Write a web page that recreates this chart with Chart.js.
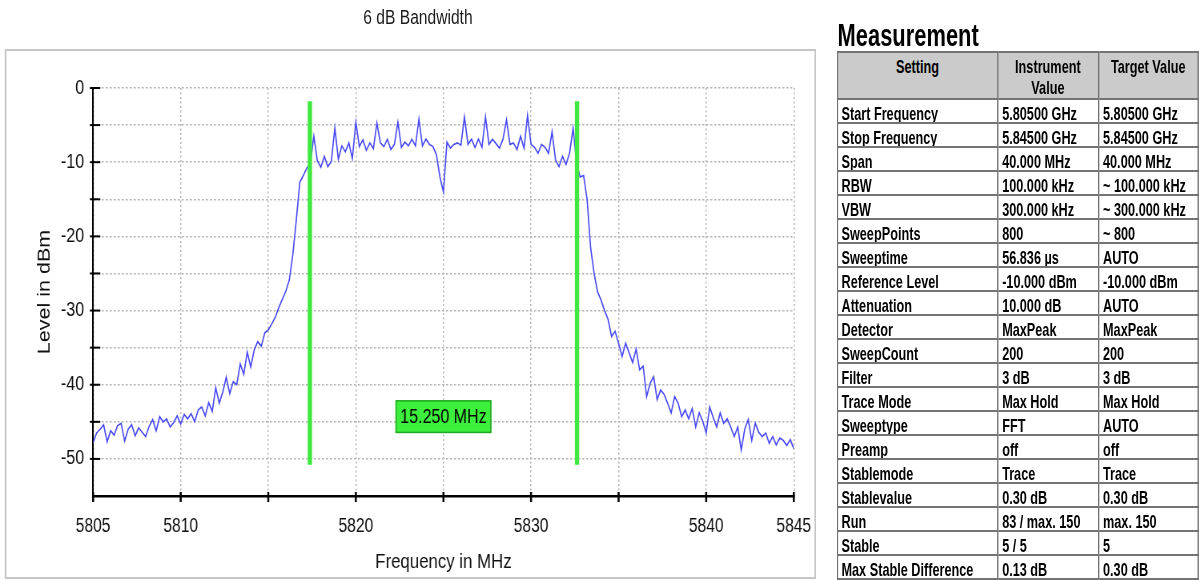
<!DOCTYPE html>
<html>
<head>
<meta charset="utf-8">
<script src="https://cdn.jsdelivr.net/npm/chart.js@4.4.1/dist/chart.umd.min.js"></script>
<style>
  html, body { margin: 0; padding: 0; background: #fff; width: 1202px; height: 580px; overflow: hidden; }
  /* the whole report is laid out condensed horizontally */
  #page { position: absolute; left: 0; top: 0; width: 1502.5px; height: 580px; transform: scaleX(0.8); transform-origin: 0 0; }
  #frame { position: absolute; left: 6px; top: 49px; width: 1010px; height: 526px; border: 2px solid #c6c6c6; }
  #chartTitle { position: absolute; left: 0; top: 7px; width: 1045px; text-align: center;
                font: 19.5px/20px "Liberation Sans", Arial, sans-serif; color: #1a1a1a; }
  #chartBox { position: absolute; left: 0; top: 0; width: 1037.5px; height: 580px; }
  #measTitle { position: absolute; left: 1047px; top: 19px; font: bold 32px/32px "Liberation Sans Narrow", "Arial Narrow", "Liberation Sans", sans-serif;
               color: #000; transform: scaleX(0.855); transform-origin: 0 0; }
  #settings { position: absolute; left: 1046px; top: 51px; width: 540px; border-collapse: collapse; table-layout: fixed;
              transform: scaleX(0.835); transform-origin: 0 0;
              font: bold 19px "Liberation Sans Narrow", "Arial Narrow", "Liberation Sans", sans-serif; color: #000; }
  #settings th, #settings td { border: 2px solid #737373; white-space: nowrap; overflow: hidden; }
  #settings th { height: 42px; background: #cbcbcb; vertical-align: top; text-align: center; line-height: 21px; padding: 3px 0 0 0; font-weight: bold; }
  #settings td { height: 17px; line-height: 17px; padding: 5px 0 0 6px; vertical-align: top; }
  #settings td:first-child { padding-left: 5px; }
</style>
</head>
<body>
<div id="page">
  <div id="frame"></div>
  <div id="chartTitle">6 dB Bandwidth</div>
  <div id="chartBox"><canvas id="spectrum"></canvas></div>
  <div id="measTitle">Measurement</div>
  <table id="settings">
    <colgroup><col style="width:239.5px"><col style="width:151px"><col style="width:149.5px"></colgroup>
    <thead><tr><th>Setting</th><th>Instrument<br>Value</th><th>Target Value</th></tr></thead>
    <tbody></tbody>
  </table>
</div>
<script>
// Sweep frequencies (MHz) and max-hold trace levels (dBm)
const frequencies = [
  5805.0, 5805.2, 5805.4, 5805.6, 5805.8, 5806.0, 5806.2, 5806.4, 5806.6, 5806.8,
  5807.0, 5807.2, 5807.4, 5807.6, 5807.8, 5808.0, 5808.2, 5808.4, 5808.6, 5808.8,
  5809.0, 5809.2, 5809.4, 5809.6, 5809.8, 5810.0, 5810.2, 5810.4, 5810.6, 5810.8,
  5811.0, 5811.2, 5811.4, 5811.6, 5811.8, 5812.0, 5812.2, 5812.4, 5812.6, 5812.8,
  5813.0, 5813.2, 5813.4, 5813.6, 5813.8, 5814.0, 5814.2, 5814.4, 5814.6, 5814.8,
  5815.0, 5815.2, 5815.4, 5815.6, 5815.8, 5816.0, 5816.2, 5816.4, 5816.6, 5816.8,
  5817.0, 5817.2, 5817.4, 5817.6, 5817.8, 5818.0, 5818.2, 5818.4, 5818.6, 5818.8,
  5819.0, 5819.2, 5819.4, 5819.6, 5819.8, 5820.0, 5820.2, 5820.4, 5820.6, 5820.8,
  5821.0, 5821.2, 5821.4, 5821.6, 5821.8, 5822.0, 5822.2, 5822.4, 5822.6, 5822.8,
  5823.0, 5823.2, 5823.4, 5823.6, 5823.8, 5824.0, 5824.2, 5824.4, 5824.6, 5824.8,
  5825.0, 5825.2, 5825.4, 5825.6, 5825.8, 5826.0, 5826.2, 5826.4, 5826.6, 5826.8,
  5827.0, 5827.2, 5827.4, 5827.6, 5827.8, 5828.0, 5828.2, 5828.4, 5828.6, 5828.8,
  5829.0, 5829.2, 5829.4, 5829.6, 5829.8, 5830.0, 5830.2, 5830.4, 5830.6, 5830.8,
  5831.0, 5831.2, 5831.4, 5831.6, 5831.8, 5832.0, 5832.2, 5832.4, 5832.6, 5832.8,
  5833.0, 5833.2, 5833.4, 5833.6, 5833.8, 5834.0, 5834.2, 5834.4, 5834.6, 5834.8,
  5835.0, 5835.2, 5835.4, 5835.6, 5835.8, 5836.0, 5836.2, 5836.4, 5836.6, 5836.8,
  5837.0, 5837.2, 5837.4, 5837.6, 5837.8, 5838.0, 5838.2, 5838.4, 5838.6, 5838.8,
  5839.0, 5839.2, 5839.4, 5839.6, 5839.8, 5840.0, 5840.2, 5840.4, 5840.6, 5840.8,
  5841.0, 5841.2, 5841.4, 5841.6, 5841.8, 5842.0, 5842.2, 5842.4, 5842.6, 5842.8,
  5843.0, 5843.2, 5843.4, 5843.6, 5843.8, 5844.0, 5844.2, 5844.4, 5844.6, 5844.8,
  5845.0
];
const levels = [
  -47.8, -46.5, -46.0, -45.4, -47.7, -46.2, -46.8, -45.5, -45.2, -47.6,
  -46.0, -45.4, -46.9, -45.8, -46.4, -47.0, -45.6, -44.7, -46.2, -44.3,
  -45.0, -44.6, -45.7, -45.1, -44.2, -45.3, -44.0, -44.6, -43.9, -45.0,
  -43.4, -43.0, -44.2, -42.4, -43.6, -40.4, -42.5, -41.0, -39.0, -41.2,
  -39.6, -40.0, -37.2, -38.6, -35.6, -37.6, -35.3, -34.2, -34.8, -33.0,
  -32.6, -31.8, -30.9, -29.6, -28.5, -27.4, -25.9, -22.5, -17.8, -12.7,
  -11.8, -10.8, -10.1, -6.5, -9.8, -10.7, -9.2, -10.6, -9.9, -5.4,
  -9.6, -7.8, -8.6, -7.4, -9.5, -4.6, -7.9, -7.0, -8.4, -7.4,
  -8.2, -4.7, -7.4, -7.9, -6.9, -8.3, -7.6, -4.6, -8.0, -7.3,
  -7.8, -6.9, -7.8, -4.2, -7.8, -6.9, -7.6, -7.9, -9.0, -12.0,
  -14.0, -7.3, -8.1, -7.6, -7.4, -7.7, -3.9, -7.6, -6.9, -8.0,
  -6.9, -8.0, -3.9, -7.6, -6.9, -7.5, -8.1, -6.9, -4.3, -7.6,
  -7.4, -8.3, -6.5, -8.1, -3.7, -7.6, -8.0, -8.8, -7.6, -8.0,
  -8.8, -5.9, -9.7, -10.6, -9.2, -10.3, -8.8, -5.4, -10.1, -12.0,
  -11.8, -15.0, -21.5, -25.0, -27.5, -28.6, -30.0, -31.2, -33.5, -32.8,
  -34.4, -36.2, -34.4, -35.7, -37.0, -35.2, -38.0, -37.5, -41.6, -39.8,
  -38.9, -42.0, -40.7, -41.3, -42.5, -43.8, -41.6, -42.5, -44.3, -43.4,
  -44.6, -43.2, -45.7, -43.8, -44.9, -46.5, -43.0, -44.4, -45.7, -43.8,
  -45.2, -44.6, -45.7, -47.0, -45.7, -48.8, -46.0, -44.7, -47.5, -45.2,
  -46.4, -47.0, -46.5, -47.9, -47.0, -48.1, -47.2, -47.5, -48.2, -47.4,
  -48.6
];

// 6 dB bandwidth markers (MHz) and their vertical extent (dBm)
const markerFreqs = [5817.375, 5832.625];
const markerSpan = [-1.8, -50.8];
const labelLevel = -44.3;

// Axis ticks
const xTickLabels = [5805, 5810, 5820, 5830, 5840, 5845];
const yTickLabels = [0, -10, -20, -30, -40, -50];

// Measurement settings table
const settingNames = ["Start Frequency", "Stop Frequency", "Span", "RBW", "VBW", "SweepPoints", "Sweeptime",
  "Reference Level", "Attenuation", "Detector", "SweepCount", "Filter", "Trace Mode", "Sweeptype", "Preamp",
  "Stablemode", "Stablevalue", "Run", "Stable", "Max Stable Difference"];
const instrumentValues = ["5.80500 GHz", "5.84500 GHz", "40.000 MHz", "100.000 kHz", "300.000 kHz", "800", "56.836 µs",
  "-10.000 dBm", "10.000 dB", "MaxPeak", "200", "3 dB", "Max Hold", "FFT", "off",
  "Trace", "0.30 dB", "83 / max. 150", "5 / 5", "0.13 dB"];
const targetValues = ["5.80500 GHz", "5.84500 GHz", "40.000 MHz", "~ 100.000 kHz", "~ 300.000 kHz", "~ 800", "AUTO",
  "-10.000 dBm", "AUTO", "MaxPeak", "200", "3 dB", "Max Hold", "AUTO", "off",
  "Trace", "0.30 dB", "max. 150", "5", "0.30 dB"];

const tbody = document.querySelector('#settings tbody');
settingNames.forEach((name, i) => {
  const tr = document.createElement('tr');
  [name, instrumentValues[i], targetValues[i]].forEach(t => {
    const td = document.createElement('td');
    td.textContent = t;
    tr.appendChild(td);
  });
  tbody.appendChild(tr);
});

const FONT = '"Liberation Sans", Arial, sans-serif';
const bandwidthText = (markerFreqs[1] - markerFreqs[0]).toFixed(3) + ' MHz';

// Tick marks that cross the axis lines
const crossTicks = {
  id: 'crossTicks',
  afterDraw(chart) {
    const { ctx, chartArea, scales: { x, y } } = chart;
    ctx.save();
    ctx.strokeStyle = '#000';
    ctx.lineWidth = 2;
    y.ticks.forEach(t => {
      if (t.value < -50) return;
      const py = y.getPixelForValue(t.value);
      ctx.beginPath();
      ctx.moveTo(chartArea.left - 4, py);
      ctx.lineTo(chartArea.left + 9, py);
      ctx.stroke();
    });
    ctx.lineWidth = 2.5;
    x.ticks.forEach(t => {
      const px = x.getPixelForValue(t.value);
      ctx.beginPath();
      ctx.moveTo(px, chartArea.bottom - 4);
      ctx.lineTo(px, chartArea.bottom + 6);
      ctx.stroke();
    });
    ctx.restore();
  }
};

// Green readout box with the measured bandwidth
const bandwidthLabel = {
  id: 'bandwidthLabel',
  afterDatasetsDraw(chart) {
    const { ctx, scales: { x, y } } = chart;
    const cx = x.getPixelForValue((markerFreqs[0] + markerFreqs[1]) / 2);
    const cy = y.getPixelForValue(labelLevel);
    ctx.save();
    ctx.font = '20px ' + FONT;
    const w = ctx.measureText(bandwidthText).width + 12;
    const h = 33;
    const bx = cx - w / 2, by = cy - h / 2;
    ctx.fillStyle = '#3def3d';
    ctx.fillRect(bx, by, w, h);
    ctx.strokeStyle = '#22a822';
    ctx.lineWidth = 1.5;
    ctx.strokeRect(bx + 0.75, by + 0.75, w - 1.5, h - 1.5);
    ctx.fillStyle = '#000';
    ctx.textAlign = 'center';
    ctx.textBaseline = 'middle';
    ctx.fillText(bandwidthText, cx, cy + 1);
    ctx.restore();
  }
};

const markerDataset = f => ({
  data: [{ x: f, y: markerSpan[0] }, { x: f, y: markerSpan[1] }],
  borderColor: '#42e842',
  borderWidth: 5.4,
  pointRadius: 0,
  borderCapStyle: 'butt'
});

new Chart(document.getElementById('spectrum'), {
  type: 'line',
  data: {
    datasets: [
      markerDataset(markerFreqs[0]),
      markerDataset(markerFreqs[1]),
      {
        data: frequencies.map((f, i) => ({ x: f, y: levels[i] })),
        borderColor: '#4848f4',
        borderWidth: 1.6,
        pointRadius: 0,
        tension: 0
      }
    ]
  },
  options: {
    responsive: true,
    maintainAspectRatio: false,
    animation: false,
    devicePixelRatio: 1,
    layout: { padding: { top: 88, left: 0, right: 46.25, bottom: 0 } },
    plugins: {
      legend: { display: false },
      tooltip: { enabled: false },
      title: { display: false }
    },
    scales: {
      x: {
        type: 'linear',
        min: 5805,
        max: 5845,
        afterFit(scale) { scale.height = 84; },
        ticks: {
          stepSize: 5,
          autoSkip: false,
          maxRotation: 0,
          padding: 19,
          color: '#111',
          font: { family: FONT, size: 19.5 },
          callback: v => xTickLabels.includes(v) ? String(v) : ''
        },
        grid: { color: '#b4b4b4', lineWidth: 1.5, drawTicks: false },
        border: { display: true, color: '#000', width: 2.5, dash: [2, 2.5] },
        title: {
          display: true,
          text: 'Frequency in MHz',
          color: '#111',
          font: { family: FONT, size: 21 },
          padding: { top: 0, bottom: 5.4 }
        }
      },
      y: {
        min: -55,
        max: 0,
        afterFit(scale) { scale.width = 116.25; },
        ticks: {
          stepSize: 5,
          padding: 11.25,
          color: '#111',
          font: { family: FONT, size: 20 },
          callback: v => yTickLabels.includes(v) ? String(v) : ''
        },
        grid: { color: '#b4b4b4', lineWidth: 1.5, drawTicks: false },
        border: { display: true, color: '#000', width: 2, dash: [2.5, 2.5] },
        title: {
          display: true,
          text: 'Level in dBm',
          color: '#111',
          font: { family: FONT, size: 21.5 },
          padding: { top: 43.3, bottom: 0 }
        }
      }
    }
  },
  plugins: [crossTicks, bandwidthLabel]
});
</script>
</body>
</html>
